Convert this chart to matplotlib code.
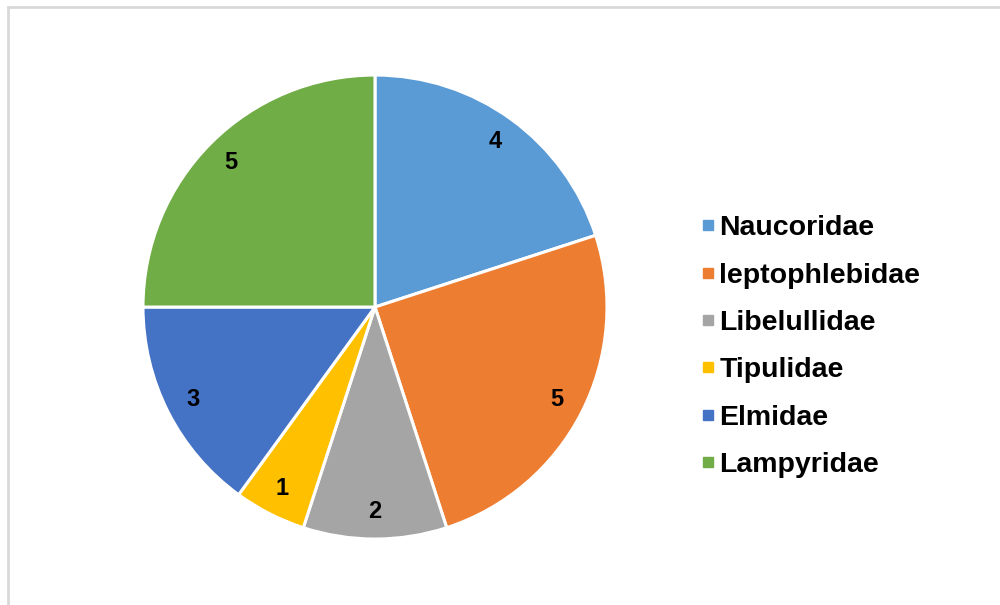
import matplotlib.pyplot as plt
from matplotlib.lines import Line2D
from matplotlib.patches import Rectangle

# datos del grafico
familias = ["Naucoridae", "leptophlebidae", "Libelullidae", "Tipulidae", "Elmidae", "Lampyridae"]
valores = [4, 5, 2, 1, 3, 5]
colores = ["#5B9BD5", "#ED7D31", "#A5A5A5", "#FFC000", "#4472C4", "#70AD47"]

plt.rcParams["font.family"] = ["Liberation Sans", "DejaVu Sans"]

fig = plt.figure(figsize=(10, 6.05), dpi=100)

# marco gris alrededor
fig.patches.append(Rectangle((0.008, -0.1), 1.1, 1.0885, transform=fig.transFigure,
                             fill=False, edgecolor="#D9D9D9", linewidth=2))

ax = fig.add_axes([0.143, 0.109, 0.464, 0.767])
wedges, textos = ax.pie(valores, colors=colores, startangle=90, counterclock=False,
                        radius=1, labels=[str(v) for v in valores], labeldistance=0.88,
                        wedgeprops=dict(edgecolor="white", linewidth=2.2),
                        textprops=dict(fontsize=17, fontweight="bold", color="black",
                                       ha="center", va="center"))
ax.set_xlim(-1, 1)
ax.set_ylim(-1, 1)
ax.set_aspect("equal")

handles = [Line2D([], [], marker="s", linestyle="none", markersize=7,
                  markerfacecolor=c, markeredgecolor=c) for c in colores]
fig.legend(handles, familias, loc="center left", bbox_to_anchor=(0.688, 0.427),
           frameon=False, prop=dict(size=20.5, weight="bold"),
           handlelength=0.4, handletextpad=0.2, labelspacing=0.75, borderpad=0)

plt.savefig("out.png", dpi=100)
